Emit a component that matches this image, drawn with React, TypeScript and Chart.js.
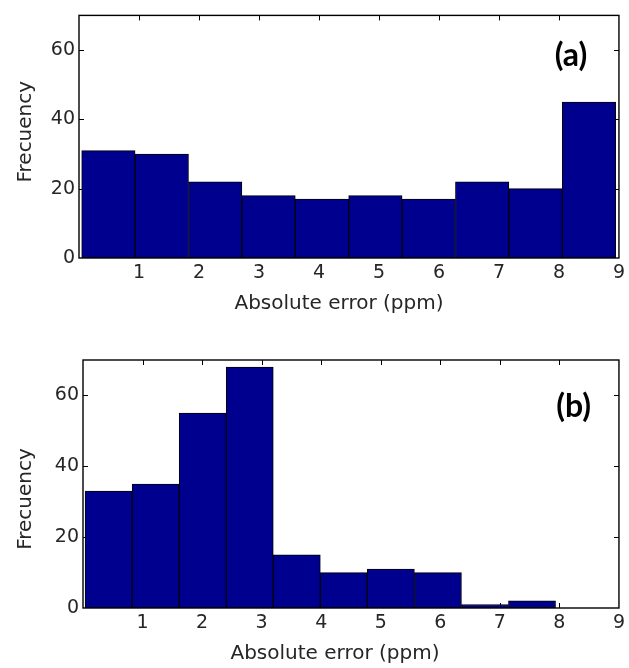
import React, { useEffect, useRef } from "react";
import { Chart, registerables } from "chart.js";

Chart.register(...registerables);

// ---- data ----
const xTickValues = [0, 1, 2, 3, 4, 5, 6, 7, 8, 9];
const yTickValues = [0, 20, 40, 60];
const xAxisTitle = "Absolute error (ppm)";
const yAxisTitle = "Frecuency";
const panelLabels = ["(a)", "(b)"];

// panel (a): histogram bin centres and counts
const binCentersA = [0.49, 1.38, 2.27, 3.16, 4.05, 4.94, 5.83, 6.72, 7.61, 8.5];
const frequencyA = [31, 30, 22, 18, 17, 18, 17, 22, 20, 45];

// panel (b): histogram bin centres and counts
const binCentersB = [0.43, 1.22, 2.01, 2.8, 3.59, 4.38, 5.17, 5.96, 6.75, 7.54];
const frequencyB = [33, 35, 55, 68, 15, 10, 11, 10, 1, 2];

const FONT = "'DejaVu Sans', 'Liberation Sans', sans-serif";
const TEXT_COLOR = "#262626";

const framePlugin = {
  id: "frame",
  beforeDatasetsDraw(chart: any) {
    const { ctx, chartArea: a, scales } = chart;
    const x = scales.x;
    const y = scales.y;
    ctx.save();
    ctx.strokeStyle = "#000";
    ctx.lineWidth = 1;
    ctx.beginPath();
    const len = 5;
    x.ticks.forEach((t: any) => {
      const px = Math.round(x.getPixelForValue(t.value)) + 0.5;
      if (px <= a.left + 1 || px >= a.right - 1) return;
      ctx.moveTo(px, a.bottom);
      ctx.lineTo(px, a.bottom - len);
      ctx.moveTo(px, a.top);
      ctx.lineTo(px, a.top + len);
    });
    y.ticks.forEach((t: any) => {
      const py = Math.round(y.getPixelForValue(t.value)) + 0.5;
      if (py <= a.top + 1 || py >= a.bottom - 1) return;
      ctx.moveTo(a.left, py);
      ctx.lineTo(a.left + len, py);
      ctx.moveTo(a.right, py);
      ctx.lineTo(a.right - len, py);
    });
    ctx.stroke();
    ctx.restore();
  },
  afterDatasetsDraw(chart: any, _args: any, opts: any) {
    const { ctx, chartArea: a, scales } = chart;
    ctx.save();
    ctx.strokeStyle = "#000";
    ctx.lineWidth = 1.4;
    ctx.strokeRect(a.left, a.top, a.right - a.left, a.bottom - a.top);

    // axis titles
    ctx.fillStyle = TEXT_COLOR;
    ctx.font = `20px ${FONT}`;
    ctx.textAlign = "center";
    ctx.textBaseline = "middle";
    ctx.fillText(
      xAxisTitle,
      (a.left + a.right) / 2 + opts.xTitleShift,
      a.bottom + opts.xTitleGap
    );
    ctx.save();
    ctx.translate(opts.yTitleX, (a.top + a.bottom) / 2 + opts.yTitleShift);
    ctx.rotate(-Math.PI / 2);
    ctx.fillText(yAxisTitle, 0, 0);
    ctx.restore();

    // panel letter
    ctx.fillStyle = "#000";
    ctx.font = `bold 32px Lato, 'DejaVu Sans', sans-serif`;
    ctx.fillText(
      opts.letter,
      scales.x.getPixelForValue(opts.letterAt[0]),
      scales.y.getPixelForValue(opts.letterAt[1])
    );
    ctx.restore();
  },
};

function makeConfig(
  centers: number[],
  values: number[],
  yAxisWidth: number,
  xAxisHeight: number,
  padTop: number,
  frameOpts: any
): any {
  return {
    type: "bar",
    data: {
      datasets: [
        {
          data: centers.map((c, i) => ({ x: c, y: values[i] })),
          backgroundColor: "#00008F",
          borderColor: "#000000",
          borderWidth: 1,
          borderSkipped: false,
          barPercentage: 1,
          categoryPercentage: 1,
        },
      ],
    },
    options: {
      responsive: false,
      animation: false,
      events: [],
      layout: { padding: { top: padTop, right: 9, bottom: 0, left: 0 } },
      plugins: {
        legend: { display: false },
        tooltip: { enabled: false },
        frame: frameOpts,
      },
      scales: {
        x: {
          type: "linear",
          min: 0,
          max: 9,
          offset: false,
          grid: { display: false, drawTicks: false },
          border: { display: false },
          afterBuildTicks: (scale: any) => {
            scale.ticks = xTickValues.map((v) => ({ value: v }));
          },
          afterFit: (scale: any) => {
            scale.height = xAxisHeight;
          },
          ticks: {
            padding: 4,
            maxRotation: 0,
            autoSkip: false,
            color: TEXT_COLOR,
            font: { family: FONT, size: 19 },
            callback: (v: number) => (v === 0 ? "" : String(v)),
          },
        },
        y: {
          type: "linear",
          min: 0,
          max: 70,
          grid: { display: false, drawTicks: false },
          border: { display: false },
          afterBuildTicks: (scale: any) => {
            scale.ticks = yTickValues.map((v) => ({ value: v }));
          },
          afterFit: (scale: any) => {
            scale.width = yAxisWidth;
          },
          ticks: {
            padding: 4,
            color: TEXT_COLOR,
            font: { family: FONT, size: 19 },
          },
        },
      },
    },
    plugins: [framePlugin],
  };
}

function Panel(props: {
  top: number;
  height: number;
  config: any;
}) {
  const ref = useRef<HTMLCanvasElement | null>(null);
  useEffect(() => {
    if (!ref.current) return;
    const chart = new Chart(ref.current, props.config);
    return () => chart.destroy();
  }, []);
  return (
    <canvas
      ref={ref}
      width={629}
      height={props.height}
      style={{
        position: "absolute",
        left: 0,
        top: props.top,
        width: 629,
        height: props.height,
        display: "block",
      }}
    />
  );
}

export default function App() {
  const configA = makeConfig(binCentersA, frequencyA, 79, 72, 15, {
    letter: panelLabels[0],
    letterAt: [8.2, 58.4],
    xTitleShift: -10,
    xTitleGap: 46,
    yTitleX: 26,
    yTitleShift: -5,
  });
  const configB = makeConfig(binCentersB, frequencyB, 83, 60, 30, {
    letter: panelLabels[1],
    letterAt: [8.24, 56.8],
    xTitleShift: -16,
    xTitleGap: 46,
    yTitleX: 26,
    yTitleShift: 15,
  });
  return (
    <div
      style={{
        position: "absolute",
        left: 0,
        top: 0,
        width: 629,
        height: 668,
        background: "#ffffff",
        overflow: "hidden",
      }}
    >
      <Panel top={0} height={330} config={configA} />
      <Panel top={330} height={338} config={configB} />
    </div>
  );
}
